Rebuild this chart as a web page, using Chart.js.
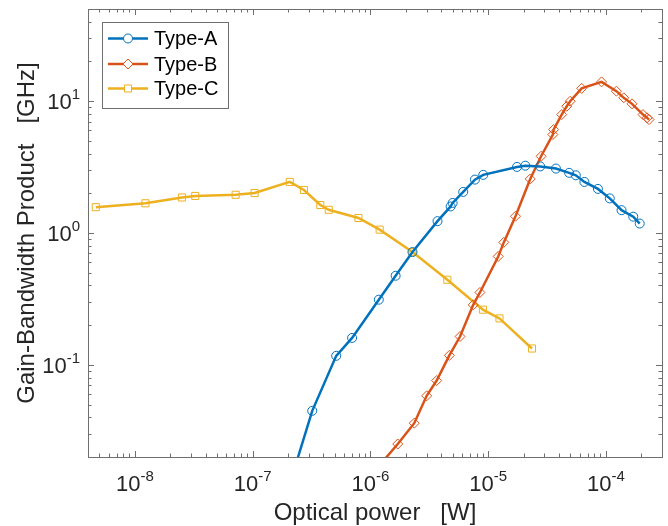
<!DOCTYPE html>
<html>
<head>
<meta charset="utf-8">
<script src="https://cdn.jsdelivr.net/npm/chart.js@4.4.0/dist/chart.umd.min.js"></script>
<style>
html, body { margin: 0; padding: 0; background: #fff; }
</style>
</head>
<body>
<canvas id="gbpchart" width="668" height="526"></canvas>
<script>
// values (x in W, y in GHz)
var typeAx = [2.0e-7, 3.21e-7, 5.13e-7, 7.0e-7, 1.18e-6, 1.64e-6, 2.28e-6, 3.72e-6, 4.81e-6, 5.0e-6, 6.15e-6, 7.73e-6, 9.1e-6, 1.76e-5, 2.07e-5, 2.77e-5, 3.77e-5, 4.88e-5, 5.56e-5, 6.58e-5, 8.57e-5, 1.08e-4, 1.36e-4, 1.71e-4, 1.94e-4];
var typeAy = [0.0113, 0.0448, 0.117, 0.160, 0.312, 0.474, 0.717, 1.23, 1.59, 1.69, 2.05, 2.54, 2.76, 3.17, 3.24, 3.20, 3.08, 2.86, 2.74, 2.44, 2.16, 1.83, 1.49, 1.33, 1.18];

var typeBx = [1.05e-6, 1.71e-6, 2.36e-6, 3.01e-6, 3.66e-6, 4.69e-6, 5.78e-6, 7.48e-6, 8.53e-6, 1.22e-5, 1.36e-5, 1.71e-5, 2.28e-5, 2.82e-5, 3.55e-5, 3.6e-5, 4.22e-5, 4.66e-5, 4.98e-5, 6.24e-5, 9.2e-5, 1.23e-4, 1.42e-4, 1.67e-4, 2.07e-4, 2.24e-4, 2.33e-4];
var typeBy = [0.0151, 0.0251, 0.0361, 0.0582, 0.076, 0.118, 0.164, 0.285, 0.354, 0.664, 0.849, 1.34, 2.57, 3.82, 5.58, 6.09, 7.91, 9.15, 9.98, 12.5, 14.0, 11.9, 10.6, 9.54, 7.91, 7.47, 7.25];

var typeCx = [4.66e-9, 1.23e-8, 2.51e-8, 3.26e-8, 7.18e-8, 1.04e-7, 2.07e-7, 2.73e-7, 3.76e-7, 4.43e-7, 7.92e-7, 1.20e-6, 2.28e-6, 4.51e-6, 9.04e-6, 1.25e-5, 2.36e-5];
var typeCy = [1.57, 1.68, 1.86, 1.91, 1.95, 2.01, 2.44, 2.12, 1.63, 1.50, 1.30, 1.06, 0.717, 0.442, 0.262, 0.225, 0.133];

var seriesNames = ['Type-A', 'Type-B', 'Type-C'];
var xTickExps = [-8, -7, -6, -5, -4];
var yTickExps = [-1, 0, 1];
var xRange = [4e-9, 3e-4];
var yRange = [0.02, 50];

var colors = ['#0072BD', '#D95319', '#EDB120'];
var markers = ['circle', 'rectRot', 'rect'];
var markerSize = [4.5, 5, 5];
var FONT = '"Liberation Sans", Arial, Helvetica, sans-serif';
var axisColor = '#6f6f6f';

function toXY(xs, ys) {
    var out = [];
    for (let i = 0; i < xs.length; i++) out.push({x: xs[i], y: ys[i]});
    return out;
}

function drawPow(ctx, e, x, y, align) {
    ctx.font = '22px ' + FONT;
    var wb = ctx.measureText('10').width;
    ctx.font = '15px ' + FONT;
    var es = String(e);
    var we = ctx.measureText(es).width;
    var start = align == 'center' ? x - (wb + we) / 2 : x - (wb + we);
    ctx.textAlign = 'left';
    ctx.textBaseline = 'alphabetic';
    ctx.font = '22px ' + FONT;
    ctx.fillText('10', start, y);
    ctx.font = '15px ' + FONT;
    ctx.fillText(es, start + wb, y - 10);
}

// box, inward ticks, tick labels and titles, MATLAB style
var axesPlugin = {
    id: 'axesPlugin',
    afterDatasetsDraw(chart) {
        var ctx = chart.ctx;
        var a = chart.chartArea;
        var xs = chart.scales.x, ys = chart.scales.y;
        ctx.save();
        ctx.strokeStyle = axisColor;
        ctx.lineWidth = 1;
        ctx.beginPath();
        for (let d = -9; d <= -3; d++) {
            for (let m = 1; m <= 9; m++) {
                let v = m * Math.pow(10, d);
                if (v < xRange[0] || v > xRange[1]) continue;
                let px = Math.round(xs.getPixelForValue(v)) + 0.5;
                let len = m == 1 ? 6 : 3.5;
                ctx.moveTo(px, a.bottom); ctx.lineTo(px, a.bottom - len);
                ctx.moveTo(px, a.top); ctx.lineTo(px, a.top + len);
            }
        }
        for (let d = -2; d <= 1; d++) {
            for (let m = 1; m <= 9; m++) {
                let v = m * Math.pow(10, d);
                if (v < yRange[0] || v > yRange[1]) continue;
                let py = Math.round(ys.getPixelForValue(v)) + 0.5;
                let len = m == 1 ? 6 : 3.5;
                ctx.moveTo(a.left, py); ctx.lineTo(a.left + len, py);
                ctx.moveTo(a.right, py); ctx.lineTo(a.right - len, py);
            }
        }
        ctx.stroke();
        ctx.strokeRect(Math.round(a.left) + 0.5, Math.round(a.top) + 0.5,
            Math.round(a.right - a.left), Math.round(a.bottom - a.top));

        ctx.fillStyle = '#262626';
        xTickExps.forEach(function(e) {
            drawPow(ctx, e, xs.getPixelForValue(Math.pow(10, e)), 491, 'center');
        });
        yTickExps.forEach(function(e) {
            drawPow(ctx, e, 80, ys.getPixelForValue(Math.pow(10, e)) + 8, 'right');
        });

        ctx.font = '24px ' + FONT;
        ctx.textAlign = 'center';
        ctx.textBaseline = 'alphabetic';
        ctx.fillText('Optical power   [W]', (a.left + a.right) / 2, 520);
        ctx.save();
        ctx.translate(34, (a.top + a.bottom) / 2);
        ctx.rotate(-Math.PI / 2);
        ctx.fillText('Gain-Bandwidth Product   [GHz]', 0, 0);
        ctx.restore();
        ctx.restore();
    },
    afterDraw(chart) {
        // legend box in the upper left corner
        var ctx = chart.ctx;
        ctx.save();
        ctx.fillStyle = '#fff';
        ctx.fillRect(102, 22, 126, 86);
        ctx.strokeStyle = axisColor;
        ctx.lineWidth = 1;
        ctx.strokeRect(102.5, 22.5, 126, 86);
        var rows = [38.5, 64, 88.5];
        ctx.font = '20px ' + FONT;
        ctx.textAlign = 'left';
        ctx.textBaseline = 'middle';
        for (let i = 0; i < 3; i++) {
            ctx.strokeStyle = colors[i];
            ctx.lineWidth = 2.5;
            ctx.beginPath();
            ctx.moveTo(108, rows[i]); ctx.lineTo(148, rows[i]);
            ctx.stroke();
            ctx.fillStyle = '#fff';
            ctx.lineWidth = 1;
            Chart.helpers.drawPoint(ctx, {pointStyle: markers[i], radius: markerSize[i], borderWidth: 1}, 128, rows[i]);
            ctx.fillStyle = '#000';
            ctx.fillText(seriesNames[i], 154, rows[i] + 1);
        }
        ctx.restore();
    }
};

var chartcanvas = document.getElementById('gbpchart').getContext('2d');

var gbpChart = new Chart(chartcanvas, {
    type: 'scatter',
    data: {
        datasets: [
            {label: seriesNames[0], data: toXY(typeAx, typeAy)},
            {label: seriesNames[1], data: toXY(typeBx, typeBy)},
            {label: seriesNames[2], data: toXY(typeCx, typeCy)}
        ].map(function(ds, i) {
            ds.showLine = true;
            ds.borderColor = colors[i];
            ds.borderWidth = 2.5;
            ds.tension = 0;
            ds.pointStyle = markers[i];
            ds.pointRadius = markerSize[i];
            ds.pointBorderWidth = 1;
            ds.pointBorderColor = colors[i];
            ds.pointBackgroundColor = 'rgba(0,0,0,0)';
            return ds;
        })
    },
    options: {
        responsive: false,
        animation: false,
        devicePixelRatio: 1,
        layout: {padding: {top: 9, right: 2, left: 0, bottom: 0}},
        plugins: {legend: {display: false}, tooltip: {enabled: false}},
        scales: {
            x: {
                type: 'logarithmic', min: xRange[0], max: xRange[1],
                grid: {display: false}, border: {display: false},
                ticks: {display: false},
                afterFit: function(s) { s.height = 69; }
            },
            y: {
                type: 'logarithmic', min: yRange[0], max: yRange[1],
                grid: {display: false}, border: {display: false},
                ticks: {display: false},
                afterFit: function(s) { s.width = 88; }
            }
        }
    },
    plugins: [axesPlugin]
});
</script>
</body>
</html>
